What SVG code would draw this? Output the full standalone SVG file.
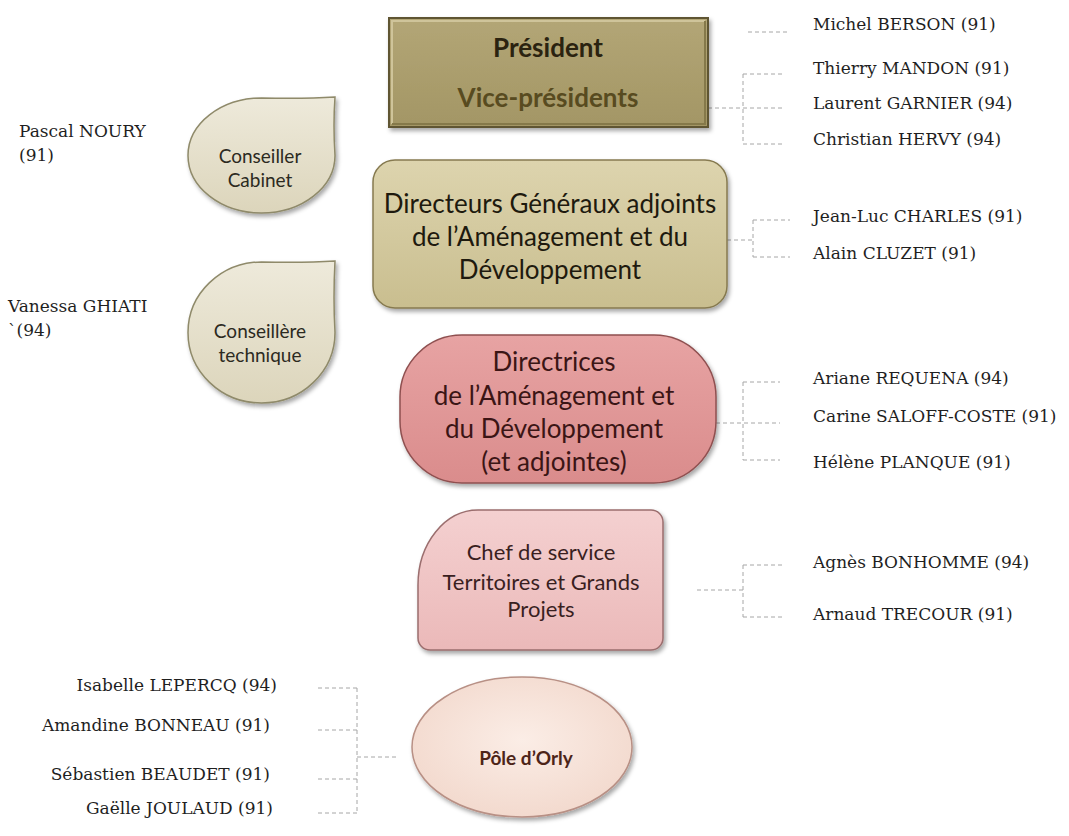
<svg xmlns="http://www.w3.org/2000/svg" width="1069" height="836" viewBox="0 0 1069 836">
<defs>
<style>
.nm{font-family:"DejaVu Serif","Liberation Serif",serif;font-size:17px;fill:#1f1f1f}
.lb{font-family:Lato,"Open Sans","Liberation Sans",sans-serif;text-anchor:middle}
.dash{fill:none;stroke:#a6a6a6;stroke-width:1;stroke-dasharray:4 3}
</style>
<linearGradient id="gPres" x1="0" y1="0" x2="0" y2="1"><stop offset="0" stop-color="#b3a676"/><stop offset="1" stop-color="#a39665"/></linearGradient>
<linearGradient id="gDga" x1="0" y1="0" x2="0" y2="1"><stop offset="0" stop-color="#ddd4ae"/><stop offset="1" stop-color="#c9be8f"/></linearGradient>
<linearGradient id="gTear" x1="0" y1="0" x2="0" y2="1"><stop offset="0" stop-color="#eeeadb"/><stop offset="1" stop-color="#dcd5bb"/></linearGradient>
<linearGradient id="gDir" x1="0" y1="0" x2="0" y2="1"><stop offset="0" stop-color="#e7a3a3"/><stop offset="1" stop-color="#da8c8c"/></linearGradient>
<linearGradient id="gChef" x1="0" y1="0" x2="0" y2="1"><stop offset="0" stop-color="#f4d0d0"/><stop offset="1" stop-color="#ebb9b9"/></linearGradient>
<radialGradient id="gPole" cx="0.5" cy="0.45" r="0.6"><stop offset="0" stop-color="#fbede6"/><stop offset="1" stop-color="#f2d8cc"/></radialGradient>
<filter id="sh" x="-10%" y="-10%" width="125%" height="130%"><feDropShadow dx="2" dy="3" stdDeviation="2" flood-color="#000" flood-opacity="0.35"/></filter>
</defs>
<rect width="1069" height="836" fill="#ffffff"/>

<g id="connectors">
<path class="dash" d="M748,32 H790"/>
<path class="dash" d="M708,108 H783 M743,74 V144 M743,74 H783 M743,144 H783"/>
<path class="dash" d="M727,240 H753 M753,220 V257 M753,220 H790 M753,257 H790"/>
<path class="dash" d="M716,423 H780 M743,382 V460 M743,382 H780 M743,460 H780"/>
<path class="dash" d="M697,590 H743 M743,565 V617 M743,565 H782 M743,617 H782"/>
<path class="dash" d="M318,688 H357 M318,730 H357 M318,779 H357 M318,813 H357 M357,688 V813 M357,757 H398"/>
</g>

<g id="president">
<rect x="389" y="18" width="319" height="109" fill="url(#gPres)" stroke="#5e5430" stroke-width="2" filter="url(#sh)"/>
<path d="M392,124 V21 H705" fill="none" stroke="#cfc49a" stroke-width="2"/>
<path d="M705,21 V124 H392" fill="none" stroke="#85794a" stroke-width="2"/>
<text class="lb" x="548" y="57" font-size="26" font-weight="bold" fill="#2b2310">Président</text>
<text class="lb" x="548" y="107" font-size="26" font-weight="bold" fill="#584b20">Vice-présidents</text>
</g>

<g id="conseiller-cabinet">
<path d="M188,155.5 A73.5,57.5 0 0 1 261.5,98 Q305,99 335,97 Q333,125 335,155.5 A73.5,57.5 0 0 1 261.5,213 A73.5,57.5 0 0 1 188,155.5 Z" fill="url(#gTear)" stroke="#8f8a6a" stroke-width="1.5" filter="url(#sh)"/>
<text class="lb" font-size="19" fill="#2c2a1f"><tspan x="260" y="163">Conseiller</tspan><tspan x="260" y="187">Cabinet</tspan></text>
</g>

<g id="conseillere-technique">
<path d="M188,332.5 A73.5,70.5 0 0 1 261.5,262 Q305,263 335,261 Q333,298 335,332.5 A73.5,70.5 0 0 1 261.5,403 A73.5,70.5 0 0 1 188,332.5 Z" fill="url(#gTear)" stroke="#8f8a6a" stroke-width="1.5" filter="url(#sh)"/>
<text class="lb" font-size="19" fill="#2c2a1f"><tspan x="260" y="338">Conseillère</tspan><tspan x="260" y="362">technique</tspan></text>
</g>

<g id="dga">
<rect x="373" y="160" width="354" height="148" rx="22" fill="url(#gDga)" stroke="#867a50" stroke-width="1.5" filter="url(#sh)"/>
<text class="lb" font-size="26" fill="#1e1a0e"><tspan x="550" y="213">Directeurs Généraux adjoints</tspan><tspan x="550" y="246">de l’Aménagement et du</tspan><tspan x="550" y="279">Développement</tspan></text>
</g>

<g id="directrices">
<rect x="400" y="335" width="316" height="148" rx="62" fill="url(#gDir)" stroke="#8f5050" stroke-width="1.5" filter="url(#sh)"/>
<text class="lb" font-size="26" fill="#3b1515"><tspan x="554" y="371">Directrices</tspan><tspan x="554" y="405">de l’Aménagement et</tspan><tspan x="554" y="438">du Développement</tspan><tspan x="554" y="471">(et adjointes)</tspan></text>
</g>

<g id="chef-service">
<path d="M418,585 A60,75 0 0 1 478,510 L651,510 A12,12 0 0 1 663,522 L663,638 A12,12 0 0 1 651,650 L430,650 A12,12 0 0 1 418,638 Z" fill="url(#gChef)" stroke="#9b6e6e" stroke-width="1.5" filter="url(#sh)"/>
<text class="lb" font-size="22" fill="#3a1f1f"><tspan x="541" y="560">Chef de service</tspan><tspan x="541" y="590">Territoires et Grands</tspan><tspan x="541" y="617">Projets</tspan></text>
</g>

<g id="pole-orly">
<ellipse cx="522" cy="747" rx="110" ry="70" fill="url(#gPole)" stroke="#b89085" stroke-width="1.5" filter="url(#sh)"/>
<text class="lb" x="526" y="765" font-size="19" font-weight="bold" fill="#4d2418">Pôle d’Orly</text>
</g>

<g id="names">
<text class="nm" x="813" y="30">Michel BERSON (91)</text>
<text class="nm" x="813" y="74">Thierry MANDON (91)</text>
<text class="nm" x="813" y="109">Laurent GARNIER (94)</text>
<text class="nm" x="813" y="145">Christian HERVY (94)</text>
<text class="nm" x="813" y="222">Jean-Luc CHARLES (91)</text>
<text class="nm" x="813" y="259">Alain CLUZET (91)</text>
<text class="nm" x="813" y="384">Ariane REQUENA (94)</text>
<text class="nm" x="813" y="422">Carine SALOFF-COSTE (91)</text>
<text class="nm" x="813" y="468">Hélène PLANQUE (91)</text>
<text class="nm" x="813" y="568">Agnès BONHOMME (94)</text>
<text class="nm" x="813" y="620">Arnaud TRECOUR (91)</text>
<text class="nm" x="19" y="137">Pascal NOURY</text>
<text class="nm" x="19" y="161">(91)</text>
<text class="nm" x="8" y="312">Vanessa GHIATI</text>
<text class="nm" x="8" y="336">`(94)</text>
<text class="nm" x="277" y="691" text-anchor="end">Isabelle LEPERCQ (94)</text>
<text class="nm" x="270" y="731" text-anchor="end">Amandine BONNEAU (91)</text>
<text class="nm" x="270" y="780" text-anchor="end">Sébastien BEAUDET (91)</text>
<text class="nm" x="273" y="814" text-anchor="end">Gaëlle JOULAUD (91)</text>
</g>
</svg>
